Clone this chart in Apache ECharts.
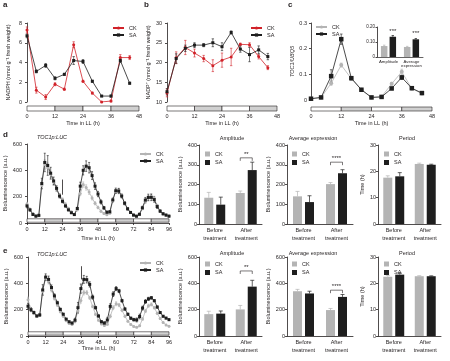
<!DOCTYPE html>
<html><head><meta charset="utf-8">
<script src="https://cdn.jsdelivr.net/npm/echarts@6/dist/echarts.min.js"></script>
<style>html,body{margin:0;padding:0;background:#fff}#c{width:450px;height:361px}</style>
</head><body><div id="c"></div>
<script>
const FONT='Liberation Sans', FS=5.5, INK='#231f20', RED='#d12229', GRAY='#b4b4b4', DARK='#1e1e1e', LDGRAY='#d0d0d0';

// ---------- data ----------
const timeA = [0,4,8,12,16,20,24,28,32,36,40,44];
const nadphCK = [7.3,1.2,0.5,1.8,1.3,5.8,2.1,0.9,0.0,0.1,4.5,4.5];
const nadphCKerr = [0.3,0.3,0.25,0.15,0.1,0.3,0.1,0.1,0.05,0.1,0.3,0.2];
const nadphSA = [6.7,3.1,3.7,2.4,2.8,4.2,4.1,2.1,0.6,0.6,4.2,1.9];
const nadphSAerr = [0.2,0.15,0.2,0.15,0.1,0.4,0.2,0.1,0.05,0.1,0.2,0.1];

const nadpCK = [12.3,21.2,23.8,22.4,21.0,19.2,20.6,21.4,24.6,24.5,21.5,18.7];
const nadpCKerr = [1.0,1.5,1.8,1.0,0.8,1.5,1.8,2.2,0.3,0.5,0.6,0.5];
const nadpSA = [12.6,21.0,23.6,24.4,24.4,25.0,24.0,27.6,23.4,22.0,23.2,21.5];
const nadpSAerr = [0.8,1.2,0.8,0.6,0.4,1.0,1.0,0.4,0.8,1.8,1.0,0.8];

const toc1CK = [0.005,0.01,0.065,0.136,0.083,0.04,0.01,0.013,0.063,0.11,0.044,0.025];
const toc1CKerr = [0.002,0.002,0.008,0.008,0.006,0.003,0.002,0.002,0.006,0.01,0.004,0.003];
const toc1SA = [0.005,0.01,0.093,0.237,0.085,0.04,0.01,0.012,0.045,0.088,0.046,0.027];
const toc1SAerr = [0.002,0.002,0.025,0.02,0.006,0.003,0.002,0.002,0.005,0.008,0.004,0.003];

const insetCats = ['Amplitude','Average\nexpression'];
const insetCK = [0.073,0.067];
const insetCKerr = [0.006,0.004];
const insetSA = [0.135,0.118];
const insetSAerr = [0.008,0.005];

const timeLUC = [0,2,4,6,8,10,12,14,16,18,20,22,24,26,28,30,32,34,36,38,40,42,44,46,48,50,52,54,56,58,60,62,64,66,68,70,72,74,76,78,80,82,84,86,88,90,92,94,96];
const dSA = [130,100,65,52,58,300,460,437,378,319,263,205,165,130,100,78,64,110,280,400,432,420,360,280,220,160,115,82,85,175,245,243,205,150,108,80,60,52,66,115,174,194,195,178,125,90,70,60,52];
const dSAerr = [15,10,8,6,8,40,70,75,45,30,20,15,12,10,8,6,6,10,30,35,40,40,30,25,20,15,10,8,8,15,20,20,15,12,10,8,6,6,8,12,20,25,25,20,15,10,8,6,6];
const dCK = [145,105,72,55,56,285,445,420,368,310,258,212,180,145,112,85,66,100,225,292,270,235,190,150,118,90,72,62,75,170,240,246,208,152,108,80,60,52,64,110,165,190,202,188,132,92,70,60,53];
const dCKerr = [12,8,6,5,6,25,35,35,25,20,15,12,10,8,6,5,5,8,15,20,20,18,15,12,10,8,6,5,6,10,15,15,12,10,8,6,5,5,6,10,15,18,18,15,10,8,6,5,5];
const dArrow = [24,330,215];

const eSA = [226,200,178,152,160,350,447,430,368,305,252,202,165,128,108,98,120,215,360,430,428,392,295,215,152,108,98,122,225,318,360,342,268,205,165,135,124,122,148,212,262,282,290,268,220,178,150,136,124];
const eSAerr = [20,15,10,8,10,40,25,25,20,15,12,10,8,6,6,8,15,40,35,30,25,20,15,10,8,8,10,20,20,18,15,12,10,8,8,8,10,15,18,15,15,12,10,8,8,6,6,6,6];
const eCK = [275,205,170,150,160,340,440,415,350,285,235,185,150,115,95,88,110,190,270,330,330,290,225,165,120,92,80,90,150,215,245,235,195,150,112,88,72,66,78,130,190,230,240,215,172,132,102,84,74];
const eCKerr = [20,12,8,6,8,30,20,20,15,12,10,8,6,5,5,6,10,20,20,18,15,12,10,8,6,5,5,8,12,15,15,12,10,8,6,5,5,5,6,10,12,12,12,10,8,6,5,5,5];
const eArrow = [36,530,430];

const ld48 = [[0,12,0],[12,24,1],[24,36,0],[36,48,1]];
const ld96 = [[0,12,0],[12,24,1],[24,36,0],[36,48,1],[48,60,0],[60,72,1],[72,84,0],[84,96,1]];

const treatCats = ['Before\ntreatment','After\ntreatment'];
const dAmpCK = [133,157], dAmpCKerr = [27,10], dAmpSA = [98,273], dAmpSAerr = [38,40];
const dAvgCK = [140,202], dAvgCKerr = [25,8], dAvgSA = [111,257], dAvgSAerr = [32,18];
const dPerCK = [17.6,22.8], dPerCKerr = [0.7,0.3], dPerSA = [18.1,22.5], dPerSAerr = [1.4,0.2];
const eAmpCK = [166,202], eAmpCKerr = [22,30], eAmpSA = [170,375], eAmpSAerr = [20,48];
const eAvgCK = [340,197], eAvgCKerr = [14,12], eAvgSA = [323,297], eAvgSAerr = [17,18];
const ePerCK = [22.5,22.7], ePerCKerr = [0.5,0.2], ePerSA = [23.3,22.7], ePerSAerr = [0.6,0.15];

// ---------- builders ----------
const grids=[], xAxes=[], yAxes=[], series=[], legends=[], graphics=[];
function addGrid(g){ grids.push(Object.assign({outerBoundsMode:'none', containLabel:false}, g)); return grids.length-1; }
function txt(size, extra){ return Object.assign({fontSize:size||FS, fontFamily:FONT, color:INK}, extra||{}); }
function valAxis(gi, min, max, interval, extra){
  const ax = {gridIndex:gi, type:'value', min, max, interval,
    axisLine:{show:true, lineStyle:{color:INK, width:0.8}},
    axisTick:{show:true, length:2, lineStyle:{color:INK, width:0.8}},
    axisLabel:txt(FS,{margin:2}),
    splitLine:{show:false}, nameLocation:'middle', nameTextStyle:txt(FS)};
  if(extra){ for(const k in extra){ if(ax[k] && typeof ax[k]==='object' && typeof extra[k]==='object') Object.assign(ax[k], extra[k]); else ax[k]=extra[k]; } }
  return ax;
}
function lineS(name, gi, xs, ys, color, symbol, size){
  return {type:'line', name, xAxisIndex:gi, yAxisIndex:gi, data:xs.map((x,i)=>[x,ys[i]]),
    symbol, symbolSize:size, showSymbol:true, lineStyle:{color, width:0.8},
    itemStyle:{color, borderWidth:0}, emphasis:{disabled:true}, z:4};
}
function errS(gi, xs, ys, es, color, capW){
  return {type:'custom', xAxisIndex:gi, yAxisIndex:gi, silent:true, z:3,
    data:xs.map((x,i)=>[x,ys[i],es[i]]), encode:{x:0,y:1},
    renderItem:(p,api)=>{
      const x=api.value(0), y=api.value(1), e=api.value(2);
      const t=api.coord([x,y+e]), b=api.coord([x,y-e]);
      const st={stroke:color, lineWidth:0.6};
      return {type:'group', children:[
        {type:'line', shape:{x1:t[0],y1:t[1],x2:b[0],y2:b[1]}, style:st},
        {type:'line', shape:{x1:t[0]-capW,y1:t[1],x2:t[0]+capW,y2:t[1]}, style:st},
        {type:'line', shape:{x1:b[0]-capW,y1:b[1],x2:b[0]+capW,y2:b[1]}, style:st}]};
    }};
}
function ldS(gi, segs, lo, hi){
  return {type:'custom', xAxisIndex:gi, yAxisIndex:gi, silent:true, z:2,
    data:segs, encode:{x:[0,1]},
    renderItem:(p,api)=>{
      const a=api.coord([api.value(0),hi]), b=api.coord([api.value(1),lo]);
      return {type:'rect', shape:{x:a[0],y:a[1],width:b[0]-a[0],height:b[1]-a[1]},
        style:{fill:api.value(2)?LDGRAY:'#ffffff', stroke:INK, lineWidth:0.6}};
    }};
}
function barS(name, gi, vals, color, w){
  return {type:'bar', name, xAxisIndex:gi, yAxisIndex:gi, data:vals, barWidth:w, barGap:'33%',
    itemStyle:{color}, emphasis:{disabled:true}, z:2};
}
function barErrS(gi, vals, errs, color, off, capW){
  return {type:'custom', xAxisIndex:gi, yAxisIndex:gi, silent:true, z:5,
    data:vals.map((v,i)=>[i,v,errs[i]]), encode:{x:0,y:1},
    renderItem:(p,api)=>{
      const a=api.coord([api.value(0),api.value(1)]), b=api.coord([api.value(0),api.value(1)+api.value(2)]);
      const x=a[0]+off, st={stroke:color, lineWidth:0.7};
      return {type:'group', children:[
        {type:'line', shape:{x1:x,y1:a[1],x2:x,y2:b[1]}, style:st},
        {type:'line', shape:{x1:x-capW,y1:b[1],x2:x+capW,y2:b[1]}, style:st}]};
    }};
}
function sigS(gi, cat, y, label, half){
  return {type:'custom', xAxisIndex:gi, yAxisIndex:gi, silent:true, z:6,
    data:[[cat,y]], encode:{x:0,y:1},
    renderItem:(p,api)=>{
      const c=api.coord([api.value(0),api.value(1)]);
      const ch=[{type:'text', x:c[0], y:c[1]-(half?0.5:0), style:{text:label, fontSize:6, fontFamily:FONT, fill:INK, align:'center', verticalAlign:'bottom', textAlign:'center', textVerticalAlign:'bottom'}}];
      if(half) ch.push({type:'polyline', shape:{points:[[c[0]-half,c[1]+3],[c[0]-half,c[1]],[c[0]+half,c[1]],[c[0]+half,c[1]+3]]}, style:{stroke:INK, fill:null, lineWidth:0.6}});
      return {type:'group', children:ch};
    }};
}
function lineLegend(names, left, top){
  legends.push({data:names, left, top, orient:'vertical', itemGap:1, itemWidth:11, itemHeight:4, padding:0,
    selectedMode:false, textStyle:txt(FS), formatter:n=>n.split('_')[0]});
}
function barLegend(names, left, top){
  legends.push({data:names, left, top, orient:'vertical', itemGap:2.5, itemWidth:5, itemHeight:5, icon:'rect', padding:0,
    selectedMode:false, textStyle:txt(FS), formatter:n=>n.split('_')[0]});
}
function label(t, x, y, font, align){
  graphics.push({type:'text', x, y, silent:true, style:{text:t, font, fill:INK, align:align||'left', textAlign:align||'left', verticalAlign:'middle', textVerticalAlign:'middle'}});
}

// ---------- panel a ----------
let g = addGrid({left:27, top:23, width:112, height:79});
xAxes.push({gridIndex:g, type:'value', min:0, max:48, show:false});
yAxes.push(valAxis(g,0,8,2,{name:'NADPH (nmol g\u207B\u00B9 fresh weight)', nameGap:13, offset:3}));
series.push(errS(g,timeA,nadphCK,nadphCKerr,RED,1.2), errS(g,timeA,nadphSA,nadphSAerr,DARK,1.2));
series.push(lineS('CK_a',g,timeA,nadphCK,RED,'circle',3), lineS('SA_a',g,timeA,nadphSA,DARK,'rect',3));
lineLegend(['CK_a','SA_a'],112,25);
g = addGrid({left:27, top:106, width:112, height:5});
xAxes.push({gridIndex:g, type:'value', min:0, max:48, interval:12, axisLine:{show:false}, axisTick:{show:false}, splitLine:{show:false},
  axisLabel:txt(FS,{margin:2}), name:'Time in LL (h)', nameLocation:'middle', nameGap:9, nameTextStyle:txt(FS)});
yAxes.push({gridIndex:g, type:'value', min:0, max:1, show:false});
series.push(ldS(g,ld48,0,1));

// ---------- panel b ----------
g = addGrid({left:167, top:23, width:110, height:79});
xAxes.push({gridIndex:g, type:'value', min:0, max:48, show:false});
yAxes.push(valAxis(g,10,30,5,{name:'NADP\u207A (nmol g\u207B\u00B9 fresh weight)', nameGap:13, offset:3}));
series.push(errS(g,timeA,nadpCK,nadpCKerr,RED,1.2), errS(g,timeA,nadpSA,nadpSAerr,DARK,1.2));
series.push(lineS('CK_b',g,timeA,nadpCK,RED,'circle',3), lineS('SA_b',g,timeA,nadpSA,DARK,'rect',3));
lineLegend(['CK_b','SA_b'],250,25);
g = addGrid({left:167, top:106, width:110, height:5});
xAxes.push({gridIndex:g, type:'value', min:0, max:48, interval:12, axisLine:{show:false}, axisTick:{show:false}, splitLine:{show:false},
  axisLabel:txt(FS,{margin:2}), name:'Time in LL (h)', nameLocation:'middle', nameGap:9, nameTextStyle:txt(FS)});
yAxes.push({gridIndex:g, type:'value', min:0, max:1, show:false});
series.push(ldS(g,ld48,0,1));

// ---------- panel c ----------
g = addGrid({left:311, top:23, width:121, height:77});
xAxes.push({gridIndex:g, type:'value', min:0, max:48, show:false});
yAxes.push(valAxis(g,0,0.3,0.1,{name:'TOC1/UBQ5', nameGap:11, offset:2, nameTextStyle:{fontStyle:'italic'},
  axisLabel:{formatter:v=>v===0?'0':v.toFixed(1)}}));
series.push(errS(g,timeA,toc1CK,toc1CKerr,GRAY,1.3), errS(g,timeA,toc1SA,toc1SAerr,DARK,1.3));
series.push(lineS('CK_c',g,timeA,toc1CK,GRAY,'circle',4), lineS('SA_c',g,timeA,toc1SA,DARK,'rect',4.5));
lineLegend(['CK_c','SA_c'],315,24);
g = addGrid({left:311, top:107, width:121, height:4});
xAxes.push({gridIndex:g, type:'value', min:0, max:48, interval:12, axisLine:{show:false}, axisTick:{show:false}, splitLine:{show:false},
  axisLabel:txt(FS,{margin:2}), name:'Time in LL (h)', nameLocation:'middle', nameGap:9, nameTextStyle:txt(FS)});
yAxes.push({gridIndex:g, type:'value', min:0, max:1, show:false});
series.push(ldS(g,ld48,0,1));
// inset
g = addGrid({left:377, top:27, width:46, height:30});
xAxes.push({gridIndex:g, type:'category', data:insetCats, axisLine:{lineStyle:{color:INK,width:0.7}}, axisTick:{show:false},
  axisLabel:txt(4.3,{margin:2, lineHeight:4.8, interval:0})});
yAxes.push(valAxis(g,0,0.2,0.1,{axisLabel:{fontSize:4.5, formatter:v=>v===0?'0':v.toFixed(2)}, axisTick:{length:1.5}}));
series.push(barS('CK_ci',g,insetCK,GRAY,6.5), barS('SA_ci',g,insetSA,DARK,6.5));
series.push(barErrS(g,insetCK,insetCKerr,GRAY,-4.3,1.2), barErrS(g,insetSA,insetSAerr,DARK,4.3,1.2));
series.push(sigS(g,0,0.152,'***',0), sigS(g,1,0.135,'***',0));
// shift stars onto SA bars
series[series.length-2].renderItem = mkStar(4.3,'***'); series[series.length-1].renderItem = mkStar(4.3,'***');
function mkStar(off,label){ return (p,api)=>{ const c=api.coord([api.value(0),api.value(1)]);
  return {type:'text', x:c[0]+off, y:c[1], style:{text:label, fontSize:6, fontFamily:FONT, fill:INK, align:'center', verticalAlign:'bottom', textAlign:'center', textVerticalAlign:'bottom'}}; }; }

// ---------- main LUC panels ----------
function lucPanel(top, left, width, sa, saErr, ck, ckErr, arrow, tag, legTop){
  const gi = addGrid({left, top, width, height:79});
  xAxes.push(valAxis(gi,0,96,12,{name:'Time in LL (h)', nameGap: tag==='d'?12:9.5, axisLabel:{margin:3}}));
  yAxes.push(valAxis(gi,0,600,200,{name:'Bioluminescence (a.u.)', nameGap:13, offset:3}));
  series.push(ldS(gi,ld96,6,32));
  series.push(errS(gi,timeLUC,ck,ckErr,GRAY,1), errS(gi,timeLUC,sa,saErr,DARK,1));
  series.push(lineS('CK_'+tag,gi,timeLUC,ck,GRAY,'circle',3));
  const s = lineS('SA_'+tag,gi,timeLUC,sa,DARK,'rect',3);
  s.markLine = {silent:true, symbol:['none','arrow'], symbolSize:[0,4], label:{show:false},
    lineStyle:{color:INK, width:0.8, type:'solid'}, data:[[{coord:[arrow[0],arrow[1]]},{coord:[arrow[0],arrow[2]]}]]};
  series.push(s);
  lineLegend(['CK_'+tag,'SA_'+tag],139,legTop);
}
lucPanel(144,27,142,dSA,dSAerr,dCK,dCKerr,dArrow,'d',151);
lucPanel(257,28,141,eSA,eSAerr,eCK,eCKerr,eArrow,'e',260);

// ---------- bar panels ----------
function barPanel(tag, left, top, width, max, interval, yName, gap, ck, ckErr, sa, saErr, sig, legLeft, legTop){
  const gi = addGrid({left, top, width, height:79});
  xAxes.push({gridIndex:gi, type:'category', data:treatCats, axisLine:{lineStyle:{color:INK,width:0.8}}, axisTick:{show:false},
    axisLabel:txt(FS,{margin:3, lineHeight:7.8, interval:0})});
  yAxes.push(valAxis(gi,0,max,interval,{name:yName, nameGap:gap}));
  series.push(barS('CK_'+tag,gi,ck,GRAY,9), barS('SA_'+tag,gi,sa,DARK,9));
  series.push(barErrS(gi,ck,ckErr,GRAY,-6,2), barErrS(gi,sa,saErr,DARK,6,2));
  if(sig) series.push(sigS(gi,1,sig[0],sig[1],6));
  barLegend(['CK_'+tag,'SA_'+tag],legLeft,legTop);
}
barPanel('da',199,145,63,400,100,'Bioluminescence (a.u.)',13,dAmpCK,dAmpCKerr,dAmpSA,dAmpSAerr,[335,'**'],205,151);
barPanel('dv',287,145,66,400,100,'Bioluminescence (a.u.)',12,dAvgCK,dAvgCKerr,dAvgSA,dAvgSAerr,[313,'****'],292,151);
barPanel('dp',378,145,63,30,10,'Time (h)',11,dPerCK,dPerCKerr,dPerSA,dPerSAerr,null,384,151);
barPanel('ea',199,257,63,600,200,'Bioluminescence (a.u.)',13,eAmpCK,eAmpCKerr,eAmpSA,eAmpSAerr,[494,'**'],205,261);
barPanel('ev',287,257,66,600,200,'Bioluminescence (a.u.)',12,eAvgCK,eAvgCKerr,eAvgSA,eAvgSAerr,[348,'****'],292,261);
barPanel('ep',378,257,63,30,10,'Time (h)',11,ePerCK,ePerCKerr,ePerSA,ePerSAerr,null,384,261);

// ---------- text labels ----------
label('a',3,5,'bold 8px '+FONT); label('b',144,5,'bold 8px '+FONT); label('c',288,5,'bold 8px '+FONT);
label('d',3,135,'bold 8px '+FONT); label('e',3,251,'bold 8px '+FONT);
label('TOC1p:LUC',52,137,'italic 5.5px '+FONT,'center');
label('TOC1p:LUC',52,254,'italic 5.5px '+FONT,'center');
label('Amplitude',232,138,'5.5px '+FONT,'center'); label('Average expression',313,138,'5.5px '+FONT,'center'); label('Period',407,138,'5.5px '+FONT,'center');
label('Amplitude',232,253,'5.5px '+FONT,'center'); label('Average expression',313,253,'5.5px '+FONT,'center'); label('Period',407,253,'5.5px '+FONT,'center');

const chart = echarts.init(document.getElementById('c'), null, {renderer:'canvas'});
chart.setOption({animation:false, backgroundColor:'#fff', textStyle:{fontFamily:FONT},
  grid:grids, xAxis:xAxes, yAxis:yAxes, series, legend:legends, graphic:graphics, tooltip:{show:false}});
</script></body></html>
